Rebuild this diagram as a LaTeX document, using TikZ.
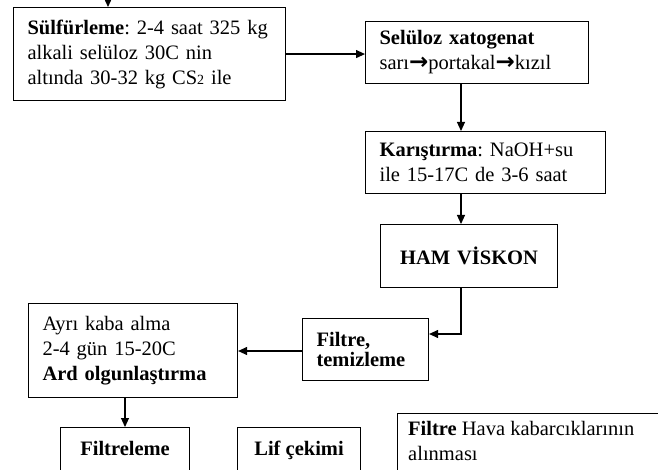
\documentclass[tikz,border=0pt]{standalone}
\usepackage{fontspec}
\setmainfont{Liberation Serif}
\newfontfamily\arrowfont{DejaVu Sans}
\usetikzlibrary{arrows.meta}
\newcommand{\myfs}{\fontsize{20.5}{25}\selectfont}
\newcommand{\myfsb}{\fontsize{20.5}{20}\selectfont}
\newcommand{\rarr}{{\arrowfont\bfseries\fontsize{23}{17}\selectfont →}}
\frenchspacing
\begin{document}
\begin{tikzpicture}[x=1pt,y=-1pt,
  box/.style={draw, line width=1.1pt, inner xsep=14pt, inner ysep=0pt, align=left, font=\myfs, anchor=north west},
  arr/.style={line width=1.1pt, -{Triangle[length=9pt,width=8pt]}},
  lbl/.style={font=\myfs\bfseries, anchor=base, yshift=-28pt}]
\useasboundingbox (0,0) rectangle (658,470);
\clip (0,0) rectangle (658,470);
\fill[white] (0,0) rectangle (658,470);

\node[box, text width=244pt, minimum height=93pt] (b1) at (13,7)
  {\mbox{\textbf{Sülfürleme}: 2-4 saat 325 kg}\\alkali selüloz 30C nin\\altında 30-32 kg CS{\fontsize{14}{14}\selectfont 2} ile};
\node[box, text width=195pt, minimum height=62pt] (b2) at (365,21)
  {\textbf{Selüloz xatogenat}\\\mbox{sarı\rarr portakal\rarr kızıl}};
\node[box, text width=212pt, minimum height=62pt] (b3) at (365,131)
  {\textbf{Karıştırma}: NaOH+su\\ile 15-17C de 3-6 saat};
\node[box, align=center, text width=149pt, minimum height=63pt] (b4) at (380,224)
  {\raisebox{-7pt}{\textbf{HAM VİSKON}}};
\node[box, font=\myfsb, text width=98pt, minimum height=62pt] (b5) at (302,318)
  {\textbf{Filtre,}\\\textbf{temizleme}};
\node[box, text width=181pt, minimum height=94pt] (b6) at (28,303)
  {Ayrı kaba alma\\2-4 gün 15-20C\\\textbf{Ard olgunlaştırma}};
\node[box, inner xsep=0pt, minimum width=129pt, minimum height=80pt,
  label={[lbl]north:Filtreleme}] (b7) at (60,427) {};
\node[box, inner xsep=0pt, minimum width=123pt, minimum height=80pt,
  label={[lbl]north:Lif çekimi}] (b8) at (237,427) {};
\node[box, inner xsep=0pt, minimum width=300pt, minimum height=80pt,
  label={[anchor=north west, align=left, inner sep=0pt, font=\myfs, xshift=11pt, yshift=-8pt]north west:{\textbf{Filtre} Hava kabarcıklarının\\alınması}}] (b9) at (397,413) {};

\coordinate (top) at (108,-10);
\coordinate (ax) at (461,0);
\coordinate (ay) at (0,334);
\coordinate (by) at (0,351);
\coordinate (bx) at (125,0);
\draw[arr] (top) -- (b1.north -| top);
\draw[arr] (b1.east) -- (b2.west |- b1.east);
\draw[arr] (b2.south -| ax) -- (b3.north -| ax);
\draw[arr] (b3.south -| ax) -- (b4.north -| ax);
\draw[arr] (b4.south -| ax) |- (b5.east |- ay);
\draw[arr] (b5.west |- by) -- (b6.east |- by);
\draw[arr] (b6.south -| bx) -- (b7.north -| bx);
\end{tikzpicture}
\end{document}
